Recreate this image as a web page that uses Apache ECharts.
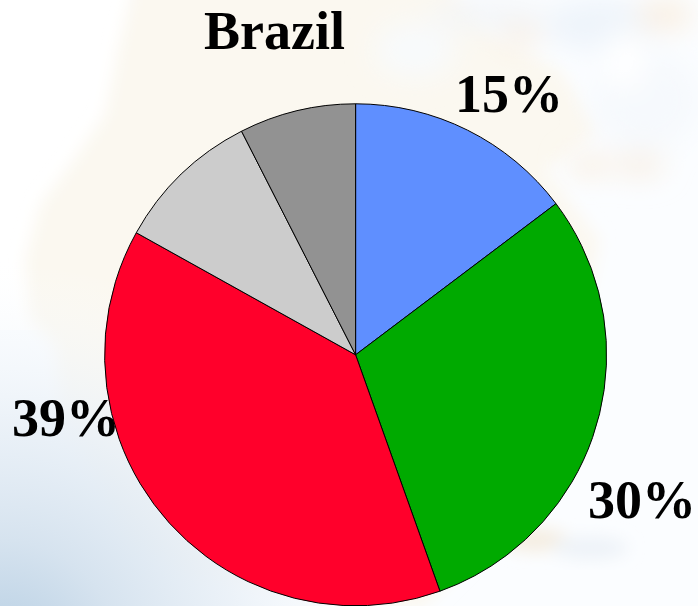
<!DOCTYPE html>
<html>
<head>
<meta charset="utf-8">
<style>
html,body{margin:0;padding:0;width:698px;height:606px;overflow:hidden;background:#fbfdff;}
#bg{position:absolute;left:0;top:0;width:698px;height:606px;}
#chart{position:absolute;left:0;top:0;width:698px;height:606px;}
</style>
<script src="https://cdn.jsdelivr.net/npm/echarts@6/dist/echarts.min.js"></script>
</head>
<body>
<svg id="bg" viewBox="0 0 698 606" xmlns="http://www.w3.org/2000/svg">
  <defs>
    <filter id="b8" x="-30%" y="-30%" width="160%" height="160%"><feGaussianBlur stdDeviation="8"/></filter>
    <filter id="b14" x="-50%" y="-50%" width="200%" height="200%"><feGaussianBlur stdDeviation="14"/></filter>
    <radialGradient id="sea" gradientUnits="userSpaceOnUse" cx="0" cy="660" r="400">
      <stop offset="0" stop-color="#b4cde2"/><stop offset="0.3" stop-color="#d6e3ef"/>
      <stop offset="0.6" stop-color="#e9f0f7" stop-opacity="0.85"/><stop offset="1" stop-color="#fbfdff" stop-opacity="0"/>
    </radialGradient>
  </defs>
  <rect x="0" y="0" width="698" height="606" fill="#fbfdff"/>
  <rect x="0" y="0" width="130" height="330" fill="#ffffff"/>
  <path filter="url(#b8)" fill="#fbf8f0" d="M135,-20 L118,50 L105,115 L70,165 L40,205 L25,260 L30,320 L55,345 L62,420 L100,480 L125,540 L190,575 L420,610 L470,560 L560,440 L600,240 L545,170 L600,130 L560,70 L500,40 L440,-20 Z"/>
  <rect x="0" y="260" width="698" height="346" fill="url(#sea)"/>
  <g filter="url(#b14)" fill="#eef4fb">
    <ellipse cx="415" cy="50" rx="40" ry="28" fill="#f8fafc"/>
    <ellipse cx="600" cy="25" rx="55" ry="26"/>
    <ellipse cx="645" cy="100" rx="55" ry="50" fill="#f6f9fd"/>
    <ellipse cx="490" cy="15" rx="60" ry="14" fill="#f3f5f8"/>
    <ellipse cx="520" cy="38" rx="22" ry="10" fill="#f9eee0"/>
    <ellipse cx="665" cy="15" rx="28" ry="14" fill="#f9eee0"/>
    <ellipse cx="590" cy="165" rx="24" ry="10" fill="#f9eee0"/>
    <ellipse cx="640" cy="165" rx="24" ry="12" fill="#f8efe4"/>
    <ellipse cx="625" cy="60" rx="20" ry="30" fill="#ffffff"/>
  </g>
  <g filter="url(#b8)">
    <ellipse cx="535" cy="540" rx="34" ry="12" fill="#f5eee2"/>
    <ellipse cx="590" cy="548" rx="38" ry="12" fill="#eef3f8"/>
  </g>
</svg>
<div id="chart"></div>
<script>
const categories = ['Segment A', 'Segment B', 'Segment C', 'Segment D', 'Segment E'];
const values = [14.7, 29.8, 38.5, 9.4, 7.5];
const colors = ['#5f8fff', '#00aa00', '#ff002b', '#cccccc', '#929292'];
const titleText = 'Brazil';
const labelTexts = ['15%', '30%', '39%'];

const chart = echarts.init(document.getElementById('chart'), null, {renderer: 'canvas'});
const textFont = {font: 'bold 54px "Liberation Serif"', fill: '#000'};
const labelAnchors = [[455, 125], [588, 531], [12, 449]];

chart.setOption({
  backgroundColor: 'transparent',
  animation: false,
  graphic: [
    {type: 'text', z: 0, x: 204, y: 62, style: Object.assign({text: titleText, textAlign: 'left', textVerticalAlign: 'bottom'}, textFont)}
  ].concat(labelTexts.map((t, i) => ({
    type: 'text', z: 0, x: labelAnchors[i][0], y: labelAnchors[i][1],
    style: Object.assign({text: t, textAlign: 'left', textVerticalAlign: 'bottom'}, textFont)
  }))),
  series: [{
    type: 'pie',
    z: 2,
    center: [355.6, 354.8],
    radius: [0, 251],
    startAngle: 90,
    clockwise: true,
    avoidLabelOverlap: false,
    silent: true,
    label: {show: false},
    labelLine: {show: false},
    itemStyle: {borderColor: '#000', borderWidth: 1},
    emphasis: {disabled: true},
    data: categories.map((name, i) => ({name, value: values[i], itemStyle: {color: colors[i]}}))
  }]
});
</script>
</body>
</html>
